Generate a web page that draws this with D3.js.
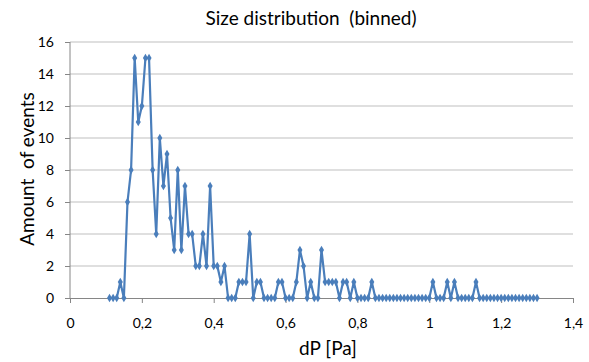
<!DOCTYPE html>
<html>
<head>
<meta charset="utf-8">
<script src="https://cdn.jsdelivr.net/npm/d3@7"></script>
<style>
  body { margin: 0; background: #fff; }
  text { font-family: Lato, "Open Sans", sans-serif; fill: #000; white-space: pre; }
</style>
</head>
<body>
<svg id="chart" width="589" height="362"></svg>
<script>
// bins of dP [Pa]
const dP = [
  0.11, 0.12, 0.13, 0.14, 0.15, 0.16, 0.17, 0.18, 0.19, 0.20,
  0.21, 0.22, 0.23, 0.24, 0.25, 0.26, 0.27, 0.28, 0.29, 0.30,
  0.31, 0.32, 0.33, 0.34, 0.35, 0.36, 0.37, 0.38, 0.39, 0.40,
  0.41, 0.42, 0.43, 0.44, 0.45, 0.46, 0.47, 0.48, 0.49, 0.50,
  0.51, 0.52, 0.53, 0.54, 0.55, 0.56, 0.57, 0.58, 0.59, 0.60,
  0.61, 0.62, 0.63, 0.64, 0.65, 0.66, 0.67, 0.68, 0.69, 0.70,
  0.71, 0.72, 0.73, 0.74, 0.75, 0.76, 0.77, 0.78, 0.79, 0.80,
  0.81, 0.82, 0.83, 0.84, 0.85, 0.86, 0.87, 0.88, 0.89, 0.90,
  0.91, 0.92, 0.93, 0.94, 0.95, 0.96, 0.97, 0.98, 0.99, 1.00,
  1.01, 1.02, 1.03, 1.04, 1.05, 1.06, 1.07, 1.08, 1.09, 1.10,
  1.11, 1.12, 1.13, 1.14, 1.15, 1.16, 1.17, 1.18, 1.19, 1.20,
  1.21, 1.22, 1.23, 1.24, 1.25, 1.26, 1.27, 1.28, 1.29, 1.30
];
const events = [
  0, 0, 0, 1, 0, 6, 8, 15, 11, 12,
  15, 15, 8, 4, 10, 7, 9, 5, 3, 8,
  3, 7, 4, 4, 2, 2, 4, 2, 7, 2,
  2, 1, 2, 0, 0, 0, 1, 1, 1, 4,
  0, 1, 1, 0, 0, 0, 0, 1, 1, 0,
  0, 0, 1, 3, 2, 0, 1, 0, 0, 3,
  1, 1, 1, 1, 0, 1, 1, 0, 1, 0,
  0, 0, 0, 1, 0, 0, 0, 0, 0, 0,
  0, 0, 0, 0, 0, 0, 0, 0, 0, 0,
  1, 0, 0, 0, 1, 0, 1, 0, 0, 0,
  0, 0, 1, 0, 0, 0, 0, 0, 0, 0,
  0, 0, 0, 0, 0, 0, 0, 0, 0, 0
];
const xTicks = [0, 0.2, 0.4, 0.6, 0.8, 1, 1.2, 1.4];
const yTicks = [0, 2, 4, 6, 8, 10, 12, 14, 16];

const margin = { top: 42, right: 16, bottom: 64, left: 70 };
const width = 589 - margin.left - margin.right;
const height = 362 - margin.top - margin.bottom;

const svg = d3.select("#chart");
const g = svg.append("g").attr("transform", `translate(${margin.left},${margin.top})`);

const x = d3.scaleLinear().domain([0, 1.4]).range([0, width]);
const y = d3.scaleLinear().domain([0, 16]).range([height, 0]);

const comma = d => String(d).replace(".", ",");

// grid
g.append("g")
  .selectAll("line")
  .data(yTicks.filter(d => d > 0))
  .join("line")
  .attr("x1", 0).attr("x2", width)
  .attr("y1", d => y(d)).attr("y2", d => y(d))
  .attr("stroke", "#bfbfbf").attr("stroke-width", 1);

const yAxis = g.append("g")
  .call(d3.axisLeft(y).tickValues(yTicks).tickSize(5).tickPadding(11).tickFormat(d => d));
const xAxis = g.append("g")
  .attr("transform", `translate(0,${height})`)
  .call(d3.axisBottom(x).tickValues(xTicks).tickSize(5).tickPadding(15).tickFormat(comma));

[xAxis, yAxis].forEach(a => {
  a.select(".domain").attr("stroke", "#868686");
  a.selectAll(".tick line").attr("stroke", "#868686");
  a.selectAll(".tick text").style("font-size", "14px").attr("fill", "#000");
});
yAxis.select(".domain").attr("d", `M0,${height}V0`);

const pts = dP.map((d, i) => [d, events[i]]);

g.append("path")
  .datum(pts)
  .attr("fill", "none")
  .attr("stroke", "#4a7ebb")
  .attr("stroke-width", 2.2)
  .attr("stroke-linejoin", "round")
  .attr("d", d3.line().x(d => x(d[0])).y(d => y(d[1])));

g.append("g")
  .selectAll("path")
  .data(pts)
  .join("path")
  .attr("transform", d => `translate(${x(d[0])},${y(d[1])})`)
  .attr("d", d3.symbol(d3.symbolDiamond, 22))
  .attr("fill", "#4a7ebb");

svg.append("text")
  .attr("x", 311).attr("y", 25)
  .attr("text-anchor", "middle")
  .style("font-size", "19px")
  .text("Size distribution  (binned)");

svg.append("text")
  .attr("x", 328).attr("y", 355)
  .attr("text-anchor", "middle")
  .style("font-size", "19px")
  .text("dP [Pa]");

svg.append("text")
  .attr("transform", `translate(34,169) rotate(-90)`)
  .attr("text-anchor", "middle")
  .style("font-size", "19px")
  .text("Amount  of events");
</script>
</body>
</html>
